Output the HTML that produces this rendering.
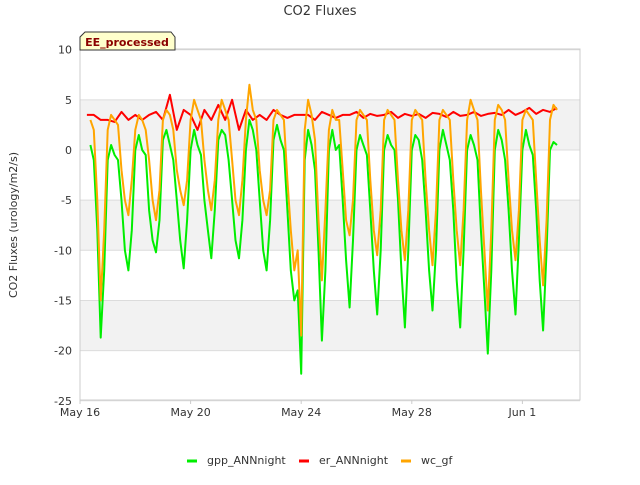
<!DOCTYPE html>
<html><head><meta charset="utf-8"><style>
body{margin:0;background:#fff;font-family:"Liberation Sans",sans-serif;}
svg text{font-family:"DejaVu Sans","Liberation Sans",sans-serif;}
</style></head><body>
<svg id="c" width="640" height="480" viewBox="0 0 640 480">
<rect width="640" height="480" fill="#fff"/>
<text x="320" y="15" text-anchor="middle" font-size="13" fill="#333">CO2 Fluxes</text>
<g id="bands"></g><g id="grid"></g>
<rect x="80" y="49" width="500" height="351" fill="none" stroke="#ccc"/>
<g id="ticks"></g><g id="series"></g>
<text transform="translate(17,225) rotate(-90)" text-anchor="middle" font-size="11" fill="#333">CO2 Fluxes (urology/m2/s)</text>
<g>
<path d="M80,37 L85,32 L171,32 L175,37 L175,50 L80,50 Z" fill="#ffffcc" stroke="#333"/>
<text x="127" y="46" text-anchor="middle" font-size="11" font-weight="bold" fill="#8b0000">EE_processed</text>
</g>
<g id="legend"></g>
</svg>
<script>
const dayLabels=["May 16","May 20","May 24","May 28","Jun 1"];
const dayTicks=[0,4,8,12,16];
const yTicks=[10,5,0,-5,-10,-15,-20,-25];
const seriesNames=["gpp_ANNnight","er_ANNnight","wc_gf"];
const seriesColors=["#00ee00","#ff0000","#ffa500"];
// 3-hourly values per day (phases 0,.125,...,.875), day 0 = May 16
const gpp=[
[null,null,null,0.5,-1,-8,-18.7,-12],
[-1,0.5,-0.5,-1,-5,-10,-12,-8],
[0,1.5,0,-0.5,-6,-9,-10.2,-7],
[1,2,0.5,-1,-5,-9,-11.8,-7],
[0,2,0.5,-0.5,-5,-8,-10.8,-6],
[1,2,1.5,-1,-5,-9,-10.8,-7],
[0,3,2,0,-5,-10,-12,-7],
[1,2.5,1,0,-6,-12,-15,-14],
[-22.3,-1,2,0.5,-2,-10,-19,-12],
[0,2,0,0.5,-5,-11,-15.7,-9],
[0,1.5,0.5,-0.5,-6,-12,-16.4,-10],
[0,1.5,0.5,0,-5,-12,-17.7,-10],
[0,1.5,1,-1,-6,-12,-16,-10],
[0,2,0.5,-1,-6,-13,-17.7,-10],
[0,1.5,0.5,-1,-8,-14,-20.3,-12],
[0,2,1,-1,-6,-12,-16.4,-9],
[0,2,0.5,-0.5,-6,-13,-18,-10],
[0,0.8,0.5,null,null,null,null,null]];
const wc=[
[null,null,null,3,2,-5,-15,-8],
[2,3.5,3,2.5,-2,-5,-6.5,-3],
[2,3.5,3,2,-1,-5,-7,-4],
[3,4,3.5,2,-2,-4,-5.5,-3],
[3,5,4,3,-1,-4,-6,-3],
[3,5,4,3,-1,-5,-6.5,-3],
[3,6.5,4,3,-2,-5,-6.5,-4],
[3,4,3.5,3,-3,-8,-12,-10],
[-18.5,2,5,3.5,1,-7,-13,-6],
[2,4,3,3,-2,-7,-8.5,-5],
[3,4,3.5,3,-3,-8,-10.5,-6],
[3,4,3.5,3,-3,-8,-11,-6],
[3,4,3.5,3,-3,-8,-11.5,-6],
[3,4,3.5,3,-3,-8,-11.5,-6],
[3,5,4,3,-4,-10,-16,-8],
[3,4.5,4,3,-3,-8,-11,-6],
[3,4,3.5,3,-3,-9,-13.5,-7],
[3,4.5,4,null,null,null,null,null]];
// 6-hourly er values per day (phases 0,.25,.5,.75)
const er=[
[null,3.5,3.5,3],[3,2.8,3.8,3],[3.5,3,3.5,3.8],[3,5.5,2,4],[3.5,2,4,3],
[4.5,3,5,2],[4,3,3.5,3],[4,3.5,3.2,3.5],[3.5,3.5,3,3.8],[3.5,3.2,3.5,3.5],
[3.8,3.2,3.6,3.4],[3.5,3.8,3.2,3.6],[3.4,3.6,3.2,3.7],[3.6,3.3,3.8,3.4],
[3.5,3.8,3.4,3.6],[3.7,3.5,4,3.5],[3.8,4.2,3.6,4],[3.8,4.2,null,null]];
const NS="http://www.w3.org/2000/svg";
const X=d=>80+d*27.65;
const Y=v=>150-v*10.03;
function mk(tag,attrs,parent){const e=document.createElementNS(NS,tag);for(const k in attrs)e.setAttribute(k,attrs[k]);parent.appendChild(e);return e;}
const bands=document.getElementById('bands'),grid=document.getElementById('grid'),ticks=document.getElementById('ticks'),ser=document.getElementById('series');
[[5,0],[-5,-10],[-15,-20]].forEach(b=>{const r=mk('rect',{x:80,y:Y(b[0]),width:500,height:Y(b[1])-Y(b[0]),fill:'#f2f2f2'},bands);

});
yTicks.forEach(v=>{const l=mk('line',{x1:80,x2:580,y1:Y(v),y2:Y(v),stroke:'#dcdcdc'},grid);


const t=mk('text',{x:72,y:Y(v)+4,'text-anchor':'end','font-size':11,fill:'#333'},ticks);t.textContent=v;

});
dayTicks.forEach((d,i)=>{const t=mk('text',{x:X(d),y:416,'text-anchor':'middle','font-size':11,fill:'#333'},ticks);t.textContent=dayLabels[i];


mk('line',{x1:X(d),x2:X(d),y1:400,y2:404,stroke:'#ccc'},ticks);});
function pts(arr,n){const p=[];arr.forEach((row,d)=>row.forEach((v,k)=>{if(v!==null)p.push(X(d+k/n).toFixed(1)+','+Y(v).toFixed(1));}));return p.join(' ');}
const data=[[gpp,8],[er,4],[wc,8]];
[0,1,2].forEach(i=>{const pl=mk('polyline',{points:pts(data[i][0],data[i][1]),fill:'none',stroke:seriesColors[i],'stroke-width':2,'stroke-linejoin':'round'},ser);

});
const leg=document.getElementById('legend');
const lx=[187,299,401];
seriesNames.forEach((n,i)=>{const g=mk('g',{},leg);


mk('line',{x1:lx[i],x2:lx[i]+10,y1:461,y2:461,stroke:seriesColors[i],'stroke-width':3},g);
const t=mk('text',{x:lx[i]+20,y:464,'font-size':11,fill:'#333'},g);t.textContent=n;});
</script>
</body></html>
